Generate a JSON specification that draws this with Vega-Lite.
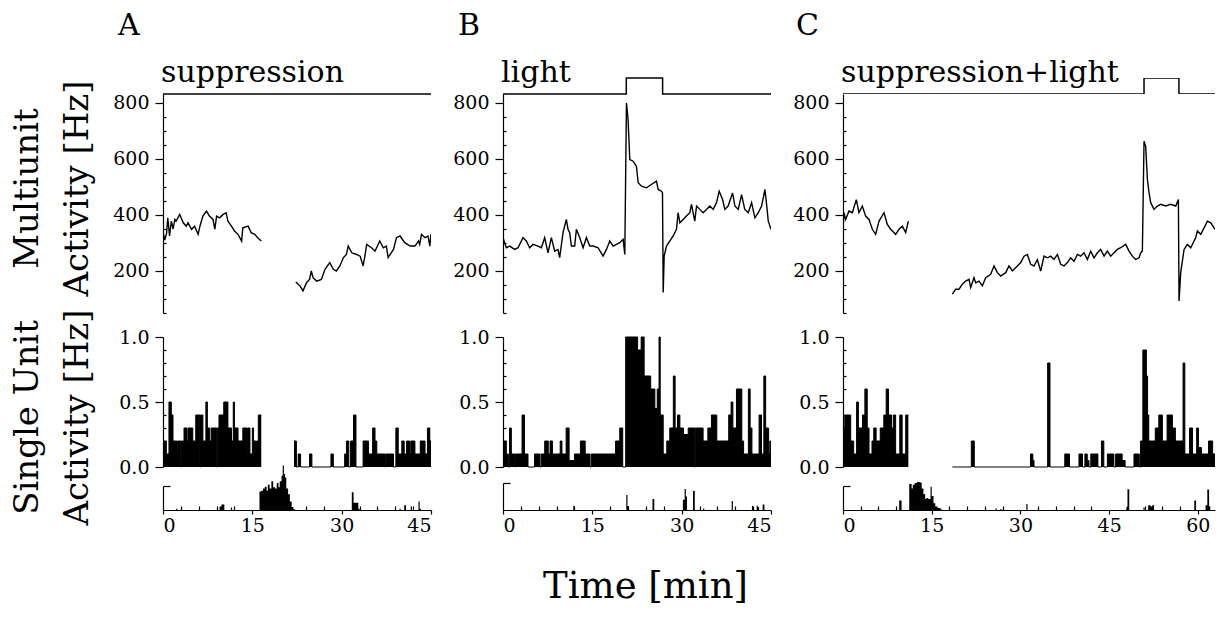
{
"$schema": "https://vega.github.io/schema/vega-lite/v6.json",
"padding": {"left": 10, "top": 11, "right": 0, "bottom": 5},
"bounds": "full",
"spacing": 18,
"config": {
  "view": {"stroke": null},
  "font": "DejaVu Serif",
  "axis": {"domainColor": "black", "domainWidth": 1.2, "tickColor": "black", "tickWidth": 1.2, "labelColor": "black", "labelFont": "DejaVu Serif", "labelFontSize": 19, "grid": false, "titleFont": "DejaVu Serif", "titleFontWeight": "normal", "titleColor": "black"}
},
"datasets": {
  "stA": [{"i":0,"t":0,"s":0},{"i":1,"t":45,"s":0}],
  "stB": [{"i":0,"t":0,"s":0},{"i":1,"t":20.7,"s":0},{"i":2,"t":20.7,"s":1},{"i":3,"t":26.8,"s":1},{"i":4,"t":26.8,"s":0},{"i":5,"t":45,"s":0}],
  "stC": [{"i":0,"t":0,"s":0},{"i":1,"t":50.9,"s":0},{"i":2,"t":50.9,"s":1},{"i":3,"t":56.8,"s":1},{"i":4,"t":56.8,"s":0},{"i":5,"t":62.9,"s":0}],
  "muA": [
    {"g":1,"t":0,"v":340},{"g":1,"t":0.3,"v":310},{"g":1,"t":0.6,"v":335},{"g":1,"t":0.8,"v":390},{"g":1,"t":1.1,"v":325},{"g":1,"t":1.4,"v":378},{"g":1,"t":1.7,"v":350},{"g":1,"t":2.0,"v":384},{"g":1,"t":2.2,"v":378},{"g":1,"t":2.8,"v":402},{"g":1,"t":3.4,"v":372},{"g":1,"t":3.9,"v":360},{"g":1,"t":4.2,"v":372},{"g":1,"t":4.8,"v":349},{"g":1,"t":5.3,"v":360},{"g":1,"t":5.9,"v":331},{"g":1,"t":6.2,"v":360},{"g":1,"t":6.7,"v":396},{"g":1,"t":7.3,"v":414},{"g":1,"t":7.8,"v":396},{"g":1,"t":8.4,"v":384},{"g":1,"t":8.7,"v":349},{"g":1,"t":9.0,"v":396},{"g":1,"t":9.5,"v":390},{"g":1,"t":10.1,"v":402},{"g":1,"t":10.6,"v":408},{"g":1,"t":10.9,"v":378},{"g":1,"t":11.5,"v":360},{"g":1,"t":12.0,"v":343},{"g":1,"t":12.6,"v":331},{"g":1,"t":13.2,"v":307},{"g":1,"t":13.4,"v":354},{"g":1,"t":14.3,"v":360},{"g":1,"t":14.8,"v":337},{"g":1,"t":15.4,"v":331},{"g":1,"t":15.9,"v":319},{"g":1,"t":16.5,"v":307},
    {"g":2,"t":22.3,"v":161},{"g":2,"t":23.0,"v":147},{"g":2,"t":23.5,"v":129},{"g":2,"t":24.1,"v":158},{"g":2,"t":24.6,"v":170},{"g":2,"t":24.9,"v":200},{"g":2,"t":25.2,"v":176},{"g":2,"t":25.8,"v":164},{"g":2,"t":26.6,"v":170},{"g":2,"t":27.2,"v":206},{"g":2,"t":28.0,"v":230},{"g":2,"t":28.6,"v":206},{"g":2,"t":29.1,"v":200},{"g":2,"t":29.7,"v":218},{"g":2,"t":30.3,"v":248},{"g":2,"t":30.8,"v":259},{"g":2,"t":31.1,"v":289},{"g":2,"t":31.7,"v":265},{"g":2,"t":32.5,"v":259},{"g":2,"t":33.1,"v":253},{"g":2,"t":33.6,"v":218},{"g":2,"t":33.9,"v":253},{"g":2,"t":34.2,"v":295},{"g":2,"t":35.0,"v":283},{"g":2,"t":35.6,"v":271},{"g":2,"t":36.4,"v":307},{"g":2,"t":37.0,"v":283},{"g":2,"t":37.5,"v":289},{"g":2,"t":37.8,"v":248},{"g":2,"t":38.7,"v":277},{"g":2,"t":39.2,"v":319},{"g":2,"t":39.8,"v":325},{"g":2,"t":40.6,"v":301},{"g":2,"t":41.5,"v":289},{"g":2,"t":42.3,"v":289},{"g":2,"t":42.9,"v":307},{"g":2,"t":43.1,"v":295},{"g":2,"t":43.4,"v":331},{"g":2,"t":44.0,"v":319},{"g":2,"t":44.5,"v":325},{"g":2,"t":44.8,"v":289},{"g":2,"t":45.0,"v":331}
  ],
  "muB": [
    {"g":1,"t":0,"v":319},{"g":1,"t":0.56,"v":283},{"g":1,"t":1.12,"v":289},{"g":1,"t":1.96,"v":277},{"g":1,"t":2.52,"v":283},{"g":1,"t":3.36,"v":319},{"g":1,"t":3.92,"v":307},{"g":1,"t":4.48,"v":283},{"g":1,"t":5.04,"v":295},{"g":1,"t":5.88,"v":289},{"g":1,"t":6.44,"v":283},{"g":1,"t":7.0,"v":319},{"g":1,"t":7.56,"v":265},{"g":1,"t":8.12,"v":319},{"g":1,"t":8.68,"v":271},{"g":1,"t":9.24,"v":277},{"g":1,"t":9.52,"v":248},{"g":1,"t":10.08,"v":337},{"g":1,"t":10.64,"v":384},{"g":1,"t":10.92,"v":349},{"g":1,"t":11.2,"v":337},{"g":1,"t":11.48,"v":289},{"g":1,"t":12.04,"v":289},{"g":1,"t":12.32,"v":349},{"g":1,"t":12.89,"v":319},{"g":1,"t":13.45,"v":283},{"g":1,"t":14.0,"v":319},{"g":1,"t":14.57,"v":289},{"g":1,"t":15.13,"v":289},{"g":1,"t":15.97,"v":283},{"g":1,"t":16.8,"v":253},{"g":1,"t":17.37,"v":277},{"g":1,"t":17.93,"v":307},{"g":1,"t":18.49,"v":289},{"g":1,"t":19.05,"v":295},{"g":1,"t":19.6,"v":301},{"g":1,"t":20.17,"v":313},{"g":1,"t":20.45,"v":259},{"g":1,"t":20.73,"v":800},{"g":1,"t":21.0,"v":741},{"g":1,"t":21.29,"v":598},{"g":1,"t":21.85,"v":592},{"g":1,"t":22.4,"v":574},{"g":1,"t":22.7,"v":515},{"g":1,"t":23.25,"v":503},{"g":1,"t":24.1,"v":497},{"g":1,"t":24.9,"v":509},{"g":1,"t":25.77,"v":521},{"g":1,"t":26.05,"v":491},{"g":1,"t":26.6,"v":485},{"g":1,"t":26.78,"v":479},{"g":1,"t":26.9,"v":123},{"g":1,"t":27.06,"v":253},{"g":1,"t":27.45,"v":289},{"g":1,"t":28.0,"v":307},{"g":1,"t":28.57,"v":325},{"g":1,"t":29.13,"v":349},{"g":1,"t":29.4,"v":408},{"g":1,"t":29.7,"v":372},{"g":1,"t":30.25,"v":384},{"g":1,"t":30.8,"v":396},{"g":1,"t":31.37,"v":408},{"g":1,"t":31.65,"v":438},{"g":1,"t":32.2,"v":378},{"g":1,"t":32.5,"v":432},{"g":1,"t":33.05,"v":420},{"g":1,"t":33.6,"v":408},{"g":1,"t":34.17,"v":420},{"g":1,"t":34.73,"v":432},{"g":1,"t":35.3,"v":420},{"g":1,"t":35.85,"v":444},{"g":1,"t":36.3,"v":485},{"g":1,"t":36.86,"v":456},{"g":1,"t":37.25,"v":420},{"g":1,"t":37.8,"v":432},{"g":1,"t":38.54,"v":479},{"g":1,"t":38.94,"v":432},{"g":1,"t":39.5,"v":420},{"g":1,"t":40.06,"v":473},{"g":1,"t":40.6,"v":420},{"g":1,"t":41.18,"v":408},{"g":1,"t":41.74,"v":444},{"g":1,"t":42.3,"v":390},{"g":1,"t":42.86,"v":408},{"g":1,"t":43.42,"v":432},{"g":1,"t":43.98,"v":491},{"g":1,"t":44.26,"v":438},{"g":1,"t":44.54,"v":378},{"g":1,"t":45,"v":349}
  ],
  "muC": [
    {"g":1,"t":0,"v":349},{"g":1,"t":0.17,"v":408},{"g":1,"t":0.45,"v":384},{"g":1,"t":1.01,"v":414},{"g":1,"t":1.58,"v":408},{"g":1,"t":2.25,"v":455},{"g":1,"t":2.7,"v":408},{"g":1,"t":3.27,"v":432},{"g":1,"t":3.83,"v":396},{"g":1,"t":4.4,"v":384},{"g":1,"t":4.96,"v":349},{"g":1,"t":5.52,"v":331},{"g":1,"t":6.09,"v":378},{"g":1,"t":6.93,"v":408},{"g":1,"t":7.5,"v":366},{"g":1,"t":8.06,"v":349},{"g":1,"t":8.9,"v":331},{"g":1,"t":9.47,"v":349},{"g":1,"t":10.03,"v":360},{"g":1,"t":10.6,"v":337},{"g":1,"t":11.05,"v":378},
    {"g":2,"t":18.49,"v":117},{"g":2,"t":19.05,"v":135},{"g":2,"t":19.62,"v":135},{"g":2,"t":20.18,"v":153},{"g":2,"t":20.74,"v":164},{"g":2,"t":21.31,"v":170},{"g":2,"t":21.59,"v":141},{"g":2,"t":22.15,"v":176},{"g":2,"t":22.44,"v":158},{"g":2,"t":23.0,"v":164},{"g":2,"t":23.56,"v":147},{"g":2,"t":24.13,"v":176},{"g":2,"t":24.97,"v":188},{"g":2,"t":25.54,"v":218},{"g":2,"t":26.1,"v":194},{"g":2,"t":26.66,"v":182},{"g":2,"t":27.51,"v":194},{"g":2,"t":28.07,"v":218},{"g":2,"t":28.64,"v":200},{"g":2,"t":29.48,"v":218},{"g":2,"t":30.05,"v":230},{"g":2,"t":30.61,"v":253},{"g":2,"t":31.17,"v":259},{"g":2,"t":31.74,"v":224},{"g":2,"t":32.3,"v":218},{"g":2,"t":32.86,"v":241},{"g":2,"t":33.43,"v":200},{"g":2,"t":33.99,"v":253},{"g":2,"t":34.55,"v":247},{"g":2,"t":35.12,"v":253},{"g":2,"t":35.68,"v":241},{"g":2,"t":36.25,"v":259},{"g":2,"t":36.81,"v":224},{"g":2,"t":37.37,"v":218},{"g":2,"t":37.94,"v":230},{"g":2,"t":38.5,"v":247},{"g":2,"t":39.06,"v":235},{"g":2,"t":39.63,"v":259},{"g":2,"t":40.19,"v":253},{"g":2,"t":40.76,"v":265},{"g":2,"t":41.32,"v":241},{"g":2,"t":41.88,"v":271},{"g":2,"t":42.45,"v":247},{"g":2,"t":43.01,"v":265},{"g":2,"t":43.57,"v":277},{"g":2,"t":44.14,"v":253},{"g":2,"t":44.7,"v":271},{"g":2,"t":45.26,"v":253},{"g":2,"t":45.83,"v":265},{"g":2,"t":46.39,"v":277},{"g":2,"t":46.96,"v":283},{"g":2,"t":47.8,"v":295},{"g":2,"t":48.37,"v":271},{"g":2,"t":48.93,"v":253},{"g":2,"t":49.49,"v":241},{"g":2,"t":50.06,"v":247},{"g":2,"t":50.34,"v":265},{"g":2,"t":50.62,"v":271},{"g":2,"t":50.9,"v":663},{"g":2,"t":51.18,"v":645},{"g":2,"t":51.47,"v":527},{"g":2,"t":51.75,"v":479},{"g":2,"t":52.03,"v":444},{"g":2,"t":52.59,"v":420},{"g":2,"t":53.16,"v":432},{"g":2,"t":53.72,"v":438},{"g":2,"t":54.57,"v":432},{"g":2,"t":55.41,"v":438},{"g":2,"t":56.26,"v":432},{"g":2,"t":56.71,"v":455},{"g":2,"t":56.82,"v":93},{"g":2,"t":57.1,"v":194},{"g":2,"t":57.67,"v":277},{"g":2,"t":58.23,"v":295},{"g":2,"t":58.8,"v":283},{"g":2,"t":59.64,"v":319},{"g":2,"t":59.92,"v":343},{"g":2,"t":60.49,"v":331},{"g":2,"t":61.05,"v":354},{"g":2,"t":61.62,"v":378},{"g":2,"t":62.18,"v":372},{"g":2,"t":62.9,"v":349}
  ],
  "suA": [
    {"g":1,"t":0,"v":0.2},{"g":1,"t":0.56,"v":0.1},{"g":1,"t":1.0,"v":0.5},{"g":1,"t":1.4,"v":0.4},{"g":1,"t":1.68,"v":0.2},{"g":1,"t":2.4,"v":0.1},{"g":1,"t":2.5,"v":0.2},{"g":1,"t":3.0,"v":0},{"g":1,"t":3.1,"v":0.2},{"g":1,"t":3.53,"v":0.3},{"g":1,"t":4.03,"v":0.2},{"g":1,"t":4.2,"v":0.3},{"g":1,"t":5.0,"v":0.2},{"g":1,"t":5.5,"v":0.4},{"g":1,"t":6.2,"v":0},{"g":1,"t":6.3,"v":0.4},{"g":1,"t":6.7,"v":0.2},{"g":1,"t":7.2,"v":0.5},{"g":1,"t":7.45,"v":0.3},{"g":1,"t":7.85,"v":0.2},{"g":1,"t":8.1,"v":0.3},{"g":1,"t":9.0,"v":0},{"g":1,"t":9.1,"v":0.3},{"g":1,"t":9.4,"v":0.4},{"g":1,"t":10.2,"v":0.5},{"g":1,"t":10.9,"v":0.3},{"g":1,"t":11.5,"v":0.2},{"g":1,"t":11.8,"v":0.5},{"g":1,"t":12.0,"v":0.3},{"g":1,"t":12.6,"v":0.2},{"g":1,"t":13.4,"v":0.3},{"g":1,"t":14.1,"v":0.1},{"g":1,"t":14.2,"v":0.3},{"g":1,"t":14.6,"v":0.1},{"g":1,"t":15.0,"v":0.3},{"g":1,"t":15.2,"v":0.2},{"g":1,"t":15.6,"v":0.1},{"g":1,"t":15.7,"v":0.2},{"g":1,"t":16.0,"v":0.4},{"g":1,"t":16.5,"v":0.4},
    {"g":2,"t":22.0,"v":0.2},{"g":2,"t":22.4,"v":0},{"g":2,"t":22.7,"v":0.1},{"g":2,"t":23.1,"v":0},{"g":2,"t":24.6,"v":0.1},{"g":2,"t":25.0,"v":0},{"g":2,"t":28.2,"v":0.1},{"g":2,"t":28.6,"v":0},{"g":2,"t":30.5,"v":0.1},{"g":2,"t":30.8,"v":0.2},{"g":2,"t":31.2,"v":0},{"g":2,"t":31.5,"v":0.2},{"g":2,"t":32.0,"v":0.4},{"g":2,"t":32.4,"v":0},{"g":2,"t":33.6,"v":0.2},{"g":2,"t":34.5,"v":0.1},{"g":2,"t":35.2,"v":0.3},{"g":2,"t":35.6,"v":0.2},{"g":2,"t":35.9,"v":0.1},{"g":2,"t":37.3,"v":0},{"g":2,"t":37.4,"v":0.1},{"g":2,"t":38.7,"v":0},{"g":2,"t":39.1,"v":0.3},{"g":2,"t":39.5,"v":0.1},{"g":2,"t":40.1,"v":0.2},{"g":2,"t":40.5,"v":0.1},{"g":2,"t":40.9,"v":0.2},{"g":2,"t":41.4,"v":0.1},{"g":2,"t":41.6,"v":0.2},{"g":2,"t":42.3,"v":0.1},{"g":2,"t":43.2,"v":0.2},{"g":2,"t":44.0,"v":0.1},{"g":2,"t":44.4,"v":0.3},{"g":2,"t":44.8,"v":0.2},{"g":2,"t":45.0,"v":0.2}
  ],
  "suB": [
    {"g":1,"t":0,"v":0.2},{"g":1,"t":0.56,"v":0.1},{"g":1,"t":0.9,"v":0},{"g":1,"t":1.1,"v":0.3},{"g":1,"t":1.4,"v":0.1},{"g":1,"t":2.0,"v":0},{"g":1,"t":2.1,"v":0.1},{"g":1,"t":3.2,"v":0.4},{"g":1,"t":3.6,"v":0.1},{"g":1,"t":4.2,"v":0},{"g":1,"t":5.3,"v":0.1},{"g":1,"t":6.2,"v":0},{"g":1,"t":6.4,"v":0.1},{"g":1,"t":7.0,"v":0.2},{"g":1,"t":7.6,"v":0.1},{"g":1,"t":7.9,"v":0.2},{"g":1,"t":8.3,"v":0.1},{"g":1,"t":9.6,"v":0.2},{"g":1,"t":9.9,"v":0.1},{"g":1,"t":10.6,"v":0.3},{"g":1,"t":11.1,"v":0.05},{"g":1,"t":12.0,"v":0.1},{"g":1,"t":13.0,"v":0.2},{"g":1,"t":13.8,"v":0.1},{"g":1,"t":14.6,"v":0},{"g":1,"t":14.8,"v":0.1},{"g":1,"t":18.9,"v":0.2},{"g":1,"t":19.6,"v":0.3},{"g":1,"t":20.1,"v":0},{"g":1,"t":20.6,"v":1.0},{"g":1,"t":22.6,"v":0.9},{"g":1,"t":23.2,"v":1.0},{"g":1,"t":23.7,"v":0.7},{"g":1,"t":24.8,"v":0.6},{"g":1,"t":25.5,"v":0.45},{"g":1,"t":25.9,"v":0.6},{"g":1,"t":26.2,"v":1.0},{"g":1,"t":26.4,"v":0.4},{"g":1,"t":26.9,"v":0.1},{"g":1,"t":27.5,"v":0.2},{"g":1,"t":28.0,"v":0.3},{"g":1,"t":28.6,"v":0.7},{"g":1,"t":28.9,"v":0.3},{"g":1,"t":29.3,"v":0.4},{"g":1,"t":29.7,"v":0.3},{"g":1,"t":30.3,"v":0.25},{"g":1,"t":31.1,"v":0.3},{"g":1,"t":32.2,"v":0},{"g":1,"t":32.3,"v":0.3},{"g":1,"t":33.6,"v":0.2},{"g":1,"t":34.4,"v":0.3},{"g":1,"t":35.0,"v":0.4},{"g":1,"t":35.9,"v":0.2},{"g":1,"t":37.9,"v":0.4},{"g":1,"t":38.3,"v":0.5},{"g":1,"t":38.6,"v":0.3},{"g":1,"t":39.2,"v":0.6},{"g":1,"t":40.1,"v":0.2},{"g":1,"t":40.4,"v":0.1},{"g":1,"t":41.2,"v":0.6},{"g":1,"t":41.5,"v":0.3},{"g":1,"t":41.8,"v":0.1},{"g":1,"t":43.0,"v":0.4},{"g":1,"t":43.4,"v":0.1},{"g":1,"t":43.8,"v":0.7},{"g":1,"t":44.1,"v":0.3},{"g":1,"t":44.6,"v":0.1},{"g":1,"t":44.8,"v":0.2},{"g":1,"t":45.0,"v":0.2}
  ],
  "suC": [
    {"g":1,"t":0,"v":0.3},{"g":1,"t":0.3,"v":0.4},{"g":1,"t":1.3,"v":0.2},{"g":1,"t":1.8,"v":0.1},{"g":1,"t":2.3,"v":0.5},{"g":1,"t":2.6,"v":0.3},{"g":1,"t":3.3,"v":0.4},{"g":1,"t":3.7,"v":0.6},{"g":1,"t":4.1,"v":0.3},{"g":1,"t":4.4,"v":0.1},{"g":1,"t":4.9,"v":0.2},{"g":1,"t":5.2,"v":0.3},{"g":1,"t":5.6,"v":0.2},{"g":1,"t":6.3,"v":0.3},{"g":1,"t":6.9,"v":0.4},{"g":1,"t":7.3,"v":0.6},{"g":1,"t":7.7,"v":0.4},{"g":1,"t":8.2,"v":0.3},{"g":1,"t":8.5,"v":0.4},{"g":1,"t":8.9,"v":0.1},{"g":1,"t":9.6,"v":0.4},{"g":1,"t":10.0,"v":0.1},{"g":1,"t":10.6,"v":0.4},{"g":1,"t":11.05,"v":0.4},
    {"g":2,"t":18.5,"v":0},{"g":2,"t":21.7,"v":0.2},{"g":2,"t":22.2,"v":0},{"g":2,"t":31.7,"v":0.1},{"g":2,"t":32.1,"v":0.05},{"g":2,"t":32.3,"v":0},{"g":2,"t":34.6,"v":0.8},{"g":2,"t":35.0,"v":0},{"g":2,"t":37.5,"v":0.1},{"g":2,"t":38.3,"v":0},{"g":2,"t":39.9,"v":0.1},{"g":2,"t":40.5,"v":0},{"g":2,"t":40.9,"v":0.1},{"g":2,"t":41.3,"v":0.05},{"g":2,"t":41.6,"v":0},{"g":2,"t":41.9,"v":0.1},{"g":2,"t":43.1,"v":0},{"g":2,"t":43.7,"v":0.2},{"g":2,"t":44.1,"v":0},{"g":2,"t":44.7,"v":0.1},{"g":2,"t":45.8,"v":0},{"g":2,"t":46.1,"v":0.1},{"g":2,"t":47.2,"v":0.05},{"g":2,"t":47.7,"v":0},{"g":2,"t":49.2,"v":0.1},{"g":2,"t":50.1,"v":0},{"g":2,"t":50.3,"v":0.2},{"g":2,"t":50.7,"v":0.9},{"g":2,"t":51.3,"v":0.7},{"g":2,"t":51.5,"v":0.4},{"g":2,"t":51.7,"v":0.2},{"g":2,"t":52.8,"v":0.3},{"g":2,"t":53.4,"v":0.4},{"g":2,"t":54.0,"v":0.2},{"g":2,"t":54.8,"v":0.4},{"g":2,"t":55.7,"v":0.3},{"g":2,"t":56.2,"v":0.2},{"g":2,"t":57.5,"v":0.8},{"g":2,"t":57.8,"v":0.1},{"g":2,"t":58.6,"v":0.3},{"g":2,"t":59.1,"v":0.1},{"g":2,"t":59.8,"v":0.3},{"g":2,"t":60.1,"v":0.15},{"g":2,"t":60.6,"v":0.1},{"g":2,"t":61.8,"v":0.2},{"g":2,"t":62.5,"v":0.1},{"g":2,"t":62.9,"v":0.1}
  ],
  "smA": [
    {"t":0,"v":0},{"t":2.2,"v":0.05},{"t":2.4,"v":0},{"t":9.5,"v":0.15},{"t":9.8,"v":0.23},{"t":10.3,"v":0},{"t":11.4,"v":0.1},{"t":11.6,"v":0},{"t":16.2,"v":0.77},{"t":16.5,"v":0.8},{"t":16.8,"v":0.9},{"t":17.1,"v":0.97},{"t":17.4,"v":0.8},{"t":17.6,"v":1.05},{"t":17.9,"v":0.9},{"t":18.2,"v":1.2},{"t":18.5,"v":0.95},{"t":18.8,"v":0.9},{"t":19.1,"v":1.12},{"t":19.4,"v":0.95},{"t":19.6,"v":1.2},{"t":19.9,"v":1.43},{"t":20.1,"v":1.85},{"t":20.3,"v":1.5},{"t":20.5,"v":1.35},{"t":20.7,"v":0.9},{"t":21.0,"v":0.66},{"t":21.3,"v":0.35},{"t":21.6,"v":0.12},{"t":21.9,"v":0.03},{"t":22.2,"v":0},{"t":31.7,"v":0.74},{"t":32.0,"v":0.3},{"t":32.8,"v":0.05},{"t":33.0,"v":0},{"t":39.7,"v":0.05},{"t":39.9,"v":0},{"t":40.5,"v":0.2},{"t":40.8,"v":0},{"t":41.6,"v":0.15},{"t":41.8,"v":0},{"t":42.9,"v":0.35},{"t":43.1,"v":0.05},{"t":43.3,"v":0},{"t":45,"v":0}
  ],
  "smB": [
    {"t":0,"v":0},{"t":11.8,"v":0.16},{"t":12.0,"v":0},{"t":20.7,"v":0.56},{"t":20.9,"v":0.15},{"t":21.1,"v":0},{"t":25.1,"v":0.41},{"t":25.4,"v":0},{"t":30.2,"v":0.38},{"t":30.5,"v":0.78},{"t":30.7,"v":0.5},{"t":30.9,"v":0},{"t":31.9,"v":0.7},{"t":32.2,"v":0},{"t":33.6,"v":0.06},{"t":33.8,"v":0},{"t":38.4,"v":0.33},{"t":38.6,"v":0},{"t":41.8,"v":0.16},{"t":42.0,"v":0},{"t":42.6,"v":0.16},{"t":42.8,"v":0.1},{"t":43.0,"v":0},{"t":43.6,"v":0.2},{"t":43.9,"v":0},{"t":45,"v":0}
  ],
  "smC": [
    {"t":0,"v":0},{"t":9.5,"v":0.4},{"t":9.9,"v":0},{"t":11.2,"v":1.08},{"t":11.6,"v":0.9},{"t":11.8,"v":1.05},{"t":12.1,"v":1.12},{"t":12.5,"v":1.17},{"t":13.0,"v":1.15},{"t":13.3,"v":0.9},{"t":13.6,"v":0.66},{"t":13.9,"v":0.46},{"t":14.1,"v":0.5},{"t":14.4,"v":0.46},{"t":14.8,"v":0.97},{"t":15.0,"v":0.58},{"t":15.3,"v":0.28},{"t":15.6,"v":0.15},{"t":16.0,"v":0.08},{"t":16.5,"v":0.02},{"t":16.8,"v":0},{"t":25.8,"v":0.06},{"t":26.0,"v":0},{"t":26.6,"v":0.04},{"t":26.8,"v":0},{"t":31.0,"v":0.25},{"t":31.2,"v":0},{"t":47.9,"v":0.1},{"t":48.1,"v":0.86},{"t":48.4,"v":0},{"t":50.8,"v":0.1},{"t":51.0,"v":0},{"t":51.6,"v":0.2},{"t":52.0,"v":0.15},{"t":52.3,"v":0.2},{"t":52.6,"v":0},{"t":59.4,"v":0.4},{"t":59.7,"v":0},{"t":61.3,"v":0.2},{"t":61.6,"v":0.85},{"t":61.9,"v":0.15},{"t":62.1,"v":0},{"t":62.9,"v":0}
  ]
},
"hconcat": [
  {"bounds": "flush", "spacing": 0, "vconcat": [
    {"width": 268, "height": 16, "layer": [
      {"data": {"name": "stA"}, "mark": {"type": "line", "color": "black", "strokeWidth": 1.5}, "encoding": {"x": {"field": "t", "type": "quantitative", "scale": {"domain": [0, 45], "nice": false, "zero": false}, "axis": null}, "y": {"field": "s", "type": "quantitative", "scale": {"domain": [0, 1]}, "axis": null}, "order": {"field": "i"}}},
      {"data": {"values": [{"t": 0, "s": 0, "label": "suppression"}]}, "mark": {"type": "text", "align": "left", "baseline": "alphabetic", "dx": -2, "dy": -12, "fontSize": 30, "font": "DejaVu Serif", "color": "black"}, "encoding": {"x": {"field": "t", "type": "quantitative"}, "y": {"field": "s", "type": "quantitative"}, "text": {"field": "label"}}},
      {"data": {"values": [{"t": 0, "s": 0, "label": "A"}]}, "mark": {"type": "text", "align": "left", "baseline": "alphabetic", "dx": -45, "dy": -59, "fontSize": 30, "font": "DejaVu Serif", "color": "black"}, "encoding": {"x": {"field": "t", "type": "quantitative"}, "y": {"field": "s", "type": "quantitative"}, "text": {"field": "label"}}}
    ]},
    {"bounds": "flush", "spacing": 24, "vconcat": [
      {"width": 268, "height": 219, "data": {"name": "muA"}, "mark": {"type": "line", "color": "black", "strokeWidth": 1.4, "clip": true},
       "encoding": {"x": {"field": "t", "type": "quantitative", "scale": {"domain": [0, 45], "nice": false, "zero": false}, "axis": null},
         "y": {"field": "v", "type": "quantitative", "scale": {"domain": [50, 832], "nice": false, "zero": false},
           "axis": {"values": [50,100,150,200,250,300,350,400,450,500,550,600,650,700,750,800], "labelExpr": "datum.value % 200 === 0 ? datum.label : ''", "tickSize": {"condition": {"test": "datum.value % 200 === 0", "value": 8}, "value": -3}, "labelPadding": 6,
             "title": ["Multiunit", "Activity [Hz]"], "titleFontSize": 34, "titleAngle": -90, "titleX": -126, "titleY": 94, "titleBaseline": "alphabetic", "titleAlign": "center", "titleLineHeight": 50}},
         "detail": {"field": "g"}}},
      {"bounds": "flush", "spacing": 19, "vconcat": [
        {"width": 268, "height": 130, "data": {"name": "suA"}, "encoding": {"x": {"field": "t", "type": "quantitative", "scale": {"domain": [0, 45], "nice": false, "zero": false}, "axis": null},
           "y": {"field": "v", "type": "quantitative", "stack": null, "scale": {"domain": [0, 1], "nice": false},
             "axis": {"values": [0,0.1,0.2,0.3,0.4,0.5,0.6,0.7,0.8,0.9,1.0], "format": ".1f", "labelExpr": "round(datum.value*10) % 5 === 0 ? datum.label : ''", "tickSize": {"condition": {"test": "round(datum.value*10) % 5 === 0", "value": 8}, "value": -3}, "labelPadding": 6,
               "title": ["Single Unit", "Activity [Hz]"], "titleFontSize": 34, "titleAngle": -90, "titleX": -126, "titleY": 80, "titleBaseline": "alphabetic", "titleAlign": "center", "titleLineHeight": 50}},
           "detail": {"field": "g"}},
         "layer": [
           {"mark": {"type": "area", "interpolate": "step-after", "color": "black"}},
           {"mark": {"type": "line", "interpolate": "step-after", "color": "black", "strokeWidth": 1}}
         ]},
        {"width": 268, "height": 24, "data": {"name": "smA"}, "mark": {"type": "area", "interpolate": "step-after", "color": "black"},
         "encoding": {"x": {"field": "t", "type": "quantitative", "scale": {"domain": [0, 45], "nice": false, "zero": false},
             "axis": {"values": [0,3,6,9,12,15,18,21,24,27,30,33,36,39,42,45], "labelExpr": "datum.value % 15 === 0 ? datum.label : ''", "tickSize": {"condition": {"test": "datum.value % 15 === 0", "value": 4}, "value": -4}, "labelPadding": 2, "title": null}},
           "y": {"field": "v", "type": "quantitative", "stack": null, "scale": {"domain": [0, 1], "nice": false}, "axis": {"values": [1], "labels": false, "tickSize": -7, "title": null}}}}
      ]}
    ]}
  ]},
  {"bounds": "flush", "spacing": 0, "vconcat": [
    {"width": 268, "height": 16, "layer": [
      {"data": {"name": "stB"}, "mark": {"type": "line", "color": "black", "strokeWidth": 1.5}, "encoding": {"x": {"field": "t", "type": "quantitative", "scale": {"domain": [0, 45], "nice": false, "zero": false}, "axis": null}, "y": {"field": "s", "type": "quantitative", "scale": {"domain": [0, 1]}, "axis": null}, "order": {"field": "i"}}},
      {"data": {"values": [{"t": 0, "s": 0, "label": "light"}]}, "mark": {"type": "text", "align": "left", "baseline": "alphabetic", "dx": -2, "dy": -12, "fontSize": 30, "font": "DejaVu Serif", "color": "black"}, "encoding": {"x": {"field": "t", "type": "quantitative"}, "y": {"field": "s", "type": "quantitative"}, "text": {"field": "label"}}},
      {"data": {"values": [{"t": 0, "s": 0, "label": "B"}]}, "mark": {"type": "text", "align": "left", "baseline": "alphabetic", "dx": -45, "dy": -59, "fontSize": 30, "font": "DejaVu Serif", "color": "black"}, "encoding": {"x": {"field": "t", "type": "quantitative"}, "y": {"field": "s", "type": "quantitative"}, "text": {"field": "label"}}}
    ]},
    {"bounds": "flush", "spacing": 24, "vconcat": [
      {"width": 268, "height": 219, "data": {"name": "muB"}, "mark": {"type": "line", "color": "black", "strokeWidth": 1.4, "clip": true},
       "encoding": {"x": {"field": "t", "type": "quantitative", "scale": {"domain": [0, 45], "nice": false, "zero": false}, "axis": null},
         "y": {"field": "v", "type": "quantitative", "scale": {"domain": [50, 832], "nice": false, "zero": false},
           "axis": {"values": [50,100,150,200,250,300,350,400,450,500,550,600,650,700,750,800], "labelExpr": "datum.value % 200 === 0 ? datum.label : ''", "tickSize": {"condition": {"test": "datum.value % 200 === 0", "value": 8}, "value": -3}, "labelPadding": 6, "title": null}},
         "detail": {"field": "g"}}},
      {"bounds": "flush", "spacing": 16, "vconcat": [
        {"width": 268, "height": 130, "data": {"name": "suB"}, "encoding": {"x": {"field": "t", "type": "quantitative", "scale": {"domain": [0, 45], "nice": false, "zero": false}, "axis": null},
           "y": {"field": "v", "type": "quantitative", "stack": null, "scale": {"domain": [0, 1], "nice": false},
             "axis": {"values": [0,0.1,0.2,0.3,0.4,0.5,0.6,0.7,0.8,0.9,1.0], "format": ".1f", "labelExpr": "round(datum.value*10) % 5 === 0 ? datum.label : ''", "tickSize": {"condition": {"test": "round(datum.value*10) % 5 === 0", "value": 8}, "value": -3}, "labelPadding": 6, "title": null}},
           "detail": {"field": "g"}},
         "layer": [
           {"mark": {"type": "area", "interpolate": "step-after", "color": "black"}},
           {"mark": {"type": "line", "interpolate": "step-after", "color": "black", "strokeWidth": 1}}
         ]},
        {"width": 268, "height": 27, "data": {"name": "smB"}, "mark": {"type": "area", "interpolate": "step-after", "color": "black"},
         "encoding": {"x": {"field": "t", "type": "quantitative", "scale": {"domain": [0, 45], "nice": false, "zero": false},
             "axis": {"values": [0,3,6,9,12,15,18,21,24,27,30,33,36,39,42,45], "labelExpr": "datum.value % 15 === 0 ? datum.label : ''", "tickSize": {"condition": {"test": "datum.value % 15 === 0", "value": 4}, "value": -4}, "labelPadding": 2,
               "title": "Time [min]", "titleFontSize": 37, "titleX": 142, "titleY": 87, "titleBaseline": "alphabetic", "titleAlign": "center"}},
           "y": {"field": "v", "type": "quantitative", "stack": null, "scale": {"domain": [0, 1], "nice": false}, "axis": {"values": [1], "labels": false, "tickSize": -7, "title": null}}}}
      ]}
    ]}
  ]},
  {"bounds": "flush", "spacing": 0, "vconcat": [
    {"width": 372, "height": 16, "layer": [
      {"data": {"name": "stC"}, "mark": {"type": "line", "color": "black", "strokeWidth": 1.5, "clip": true}, "encoding": {"x": {"field": "t", "type": "quantitative", "scale": {"domain": [0, 62.9], "nice": false, "zero": false}, "axis": null}, "y": {"field": "s", "type": "quantitative", "scale": {"domain": [0, 1]}, "axis": null}, "order": {"field": "i"}}},
      {"data": {"values": [{"t": 0, "s": 0, "label": "suppression+light"}]}, "mark": {"type": "text", "align": "left", "baseline": "alphabetic", "dx": -2, "dy": -12, "fontSize": 30, "font": "DejaVu Serif", "color": "black"}, "encoding": {"x": {"field": "t", "type": "quantitative"}, "y": {"field": "s", "type": "quantitative"}, "text": {"field": "label"}}},
      {"data": {"values": [{"t": 0, "s": 0, "label": "C"}]}, "mark": {"type": "text", "align": "left", "baseline": "alphabetic", "dx": -47, "dy": -59, "fontSize": 30, "font": "DejaVu Serif", "color": "black"}, "encoding": {"x": {"field": "t", "type": "quantitative"}, "y": {"field": "s", "type": "quantitative"}, "text": {"field": "label"}}}
    ]},
    {"bounds": "flush", "spacing": 24, "vconcat": [
      {"width": 372, "height": 219, "data": {"name": "muC"}, "mark": {"type": "line", "color": "black", "strokeWidth": 1.4, "clip": true},
       "encoding": {"x": {"field": "t", "type": "quantitative", "scale": {"domain": [0, 62.9], "nice": false, "zero": false}, "axis": null},
         "y": {"field": "v", "type": "quantitative", "scale": {"domain": [50, 832], "nice": false, "zero": false},
           "axis": {"values": [50,100,150,200,250,300,350,400,450,500,550,600,650,700,750,800], "labelExpr": "datum.value % 200 === 0 ? datum.label : ''", "tickSize": {"condition": {"test": "datum.value % 200 === 0", "value": 8}, "value": -3}, "labelPadding": 6, "title": null}},
         "detail": {"field": "g"}}},
      {"bounds": "flush", "spacing": 19, "vconcat": [
        {"width": 372, "height": 130, "data": {"name": "suC"}, "encoding": {"x": {"field": "t", "type": "quantitative", "scale": {"domain": [0, 62.9], "nice": false, "zero": false}, "axis": null},
           "y": {"field": "v", "type": "quantitative", "stack": null, "scale": {"domain": [0, 1], "nice": false},
             "axis": {"values": [0,0.1,0.2,0.3,0.4,0.5,0.6,0.7,0.8,0.9,1.0], "format": ".1f", "labelExpr": "round(datum.value*10) % 5 === 0 ? datum.label : ''", "tickSize": {"condition": {"test": "round(datum.value*10) % 5 === 0", "value": 8}, "value": -3}, "labelPadding": 6, "title": null}},
           "detail": {"field": "g"}},
         "layer": [
           {"mark": {"type": "area", "interpolate": "step-after", "color": "black"}},
           {"mark": {"type": "line", "interpolate": "step-after", "color": "black", "strokeWidth": 1}}
         ]},
        {"width": 372, "height": 24, "data": {"name": "smC"}, "mark": {"type": "area", "interpolate": "step-after", "color": "black"},
         "encoding": {"x": {"field": "t", "type": "quantitative", "scale": {"domain": [0, 62.9], "nice": false, "zero": false},
             "axis": {"values": [0,3,6,9,12,15,18,21,24,27,30,33,36,39,42,45,48,51,54,57,60], "labelExpr": "datum.value % 15 === 0 ? datum.label : ''", "tickSize": {"condition": {"test": "datum.value % 15 === 0", "value": 4}, "value": -4}, "labelPadding": 2, "title": null}},
           "y": {"field": "v", "type": "quantitative", "stack": null, "scale": {"domain": [0, 1], "nice": false}, "axis": {"values": [1], "labels": false, "tickSize": -7, "title": null}}}}
      ]}
    ]}
  ]}
]
}
